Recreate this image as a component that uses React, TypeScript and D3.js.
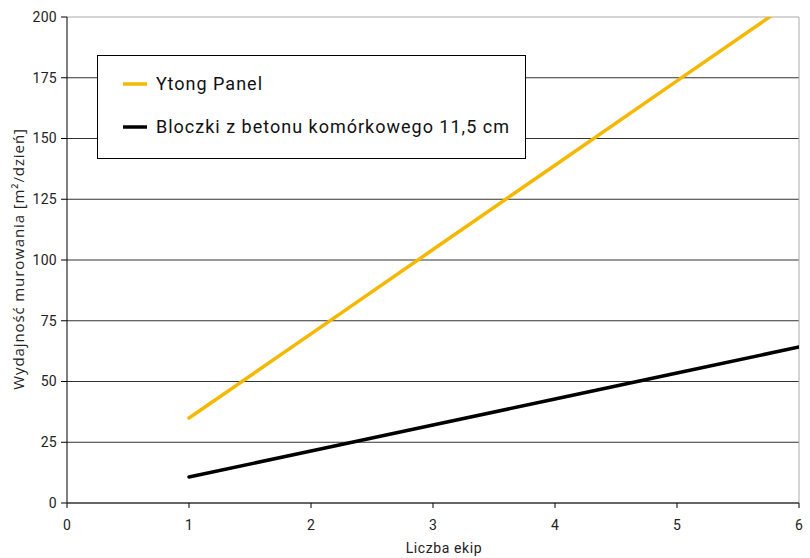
import React from "react";
import * as d3 from "d3";

const teams = [1, 2, 3, 4, 5, 6];
const ytongPanel = [35, 69.6, 104.3, 139, 173.7, 208.4];
const bloczki = [10.7, 21.4, 32.1, 42.8, 53.5, 64.2];
const yTicks = [0, 25, 50, 75, 100, 125, 150, 175, 200];
const xTicks = [0, 1, 2, 3, 4, 5, 6];
const seriesNames = ["Ytong Panel", "Bloczki z betonu komórkowego 11,5 cm"];
const seriesColors = ["#F5B800", "#000000"];

export default function App() {
  const W = 810, H = 558;
  const L = 67, R = 799, T = 17, B = 503;
  const x = d3.scaleLinear().domain([0, 6]).range([L, R]);
  const y = d3.scaleLinear().domain([0, 200]).range([B, T]);
  const line = d3.line<number>().x((_, i) => x(teams[i])).y((d) => y(d));
  const font = "Roboto, 'DejaVu Sans', sans-serif";
  const series = [ytongPanel, bloczki];

  return (
    <svg width={W} height={H} style={{ position: "absolute", left: 0, top: 0 }}>
      <defs>
        <clipPath id="plot">
          <rect x={L} y={T} width={R - L} height={B - T} />
        </clipPath>
      </defs>
      <rect width={W} height={H} fill="#fff" />
      {yTicks.filter((t) => t > 0 && t < 200).map((t) => (
        <line key={t} x1={L} x2={R} y1={y(t)} y2={y(t)} stroke="#333" strokeWidth={1} />
      ))}
      <line x1={L} x2={R} y1={T} y2={T} stroke="#aaa" />
      <line x1={R} x2={R} y1={T} y2={B} stroke="#aaa" />
      {series.map((s, i) => (
        <path key={i} d={line(s) || ""} fill="none" stroke={seriesColors[i]} strokeWidth={3.5}
          strokeLinecap="round" clipPath="url(#plot)" />
      ))}
      <line x1={L} x2={L} y1={T} y2={B} stroke="#000" />
      <line x1={L} x2={R} y1={B} y2={B} stroke="#333" strokeWidth={1.5} />
      {yTicks.map((t) => (
        <g key={t}>
          <line x1={L - 6} x2={L} y1={y(t)} y2={y(t)} stroke="#000" />
          <text x={57} y={y(t)} dy="0.35em" textAnchor="end" fontFamily={font} fontSize={14} letterSpacing={0.3} fill="#222">{t}</text>
        </g>
      ))}
      {xTicks.map((t) => (
        <g key={t}>
          <line x1={x(t)} x2={x(t)} y1={B} y2={B + 5} stroke="#000" />
          <text x={x(t)} y={530} textAnchor="middle" fontFamily={font} fontSize={14} fill="#222">{t}</text>
        </g>
      ))}
      <text x={444} y={553} textAnchor="middle" fontFamily={font} fontSize={14} letterSpacing={0.6} fill="#222">Liczba ekip</text>
      <text transform={`translate(24, ${259}) rotate(-90)`} textAnchor="middle"
        fontFamily="'Open Sans', sans-serif" fontSize={15} letterSpacing={0.9} fill="#222">Wydajność murowania [m²/dzień]</text>
      <rect x={97.5} y={55.5} width={428} height={103} fill="#fff" stroke="#000" />
      {seriesNames.map((n, i) => (
        <g key={n}>
          <line x1={123} x2={147} y1={84 + i * 43} y2={84 + i * 43} stroke={seriesColors[i]} strokeWidth={3.5} />
          <text x={156} y={84 + i * 43} dy="0.35em" fontFamily={font} fontSize={18} letterSpacing={1} fill="#111">{n}</text>
        </g>
      ))}
    </svg>
  );
}
